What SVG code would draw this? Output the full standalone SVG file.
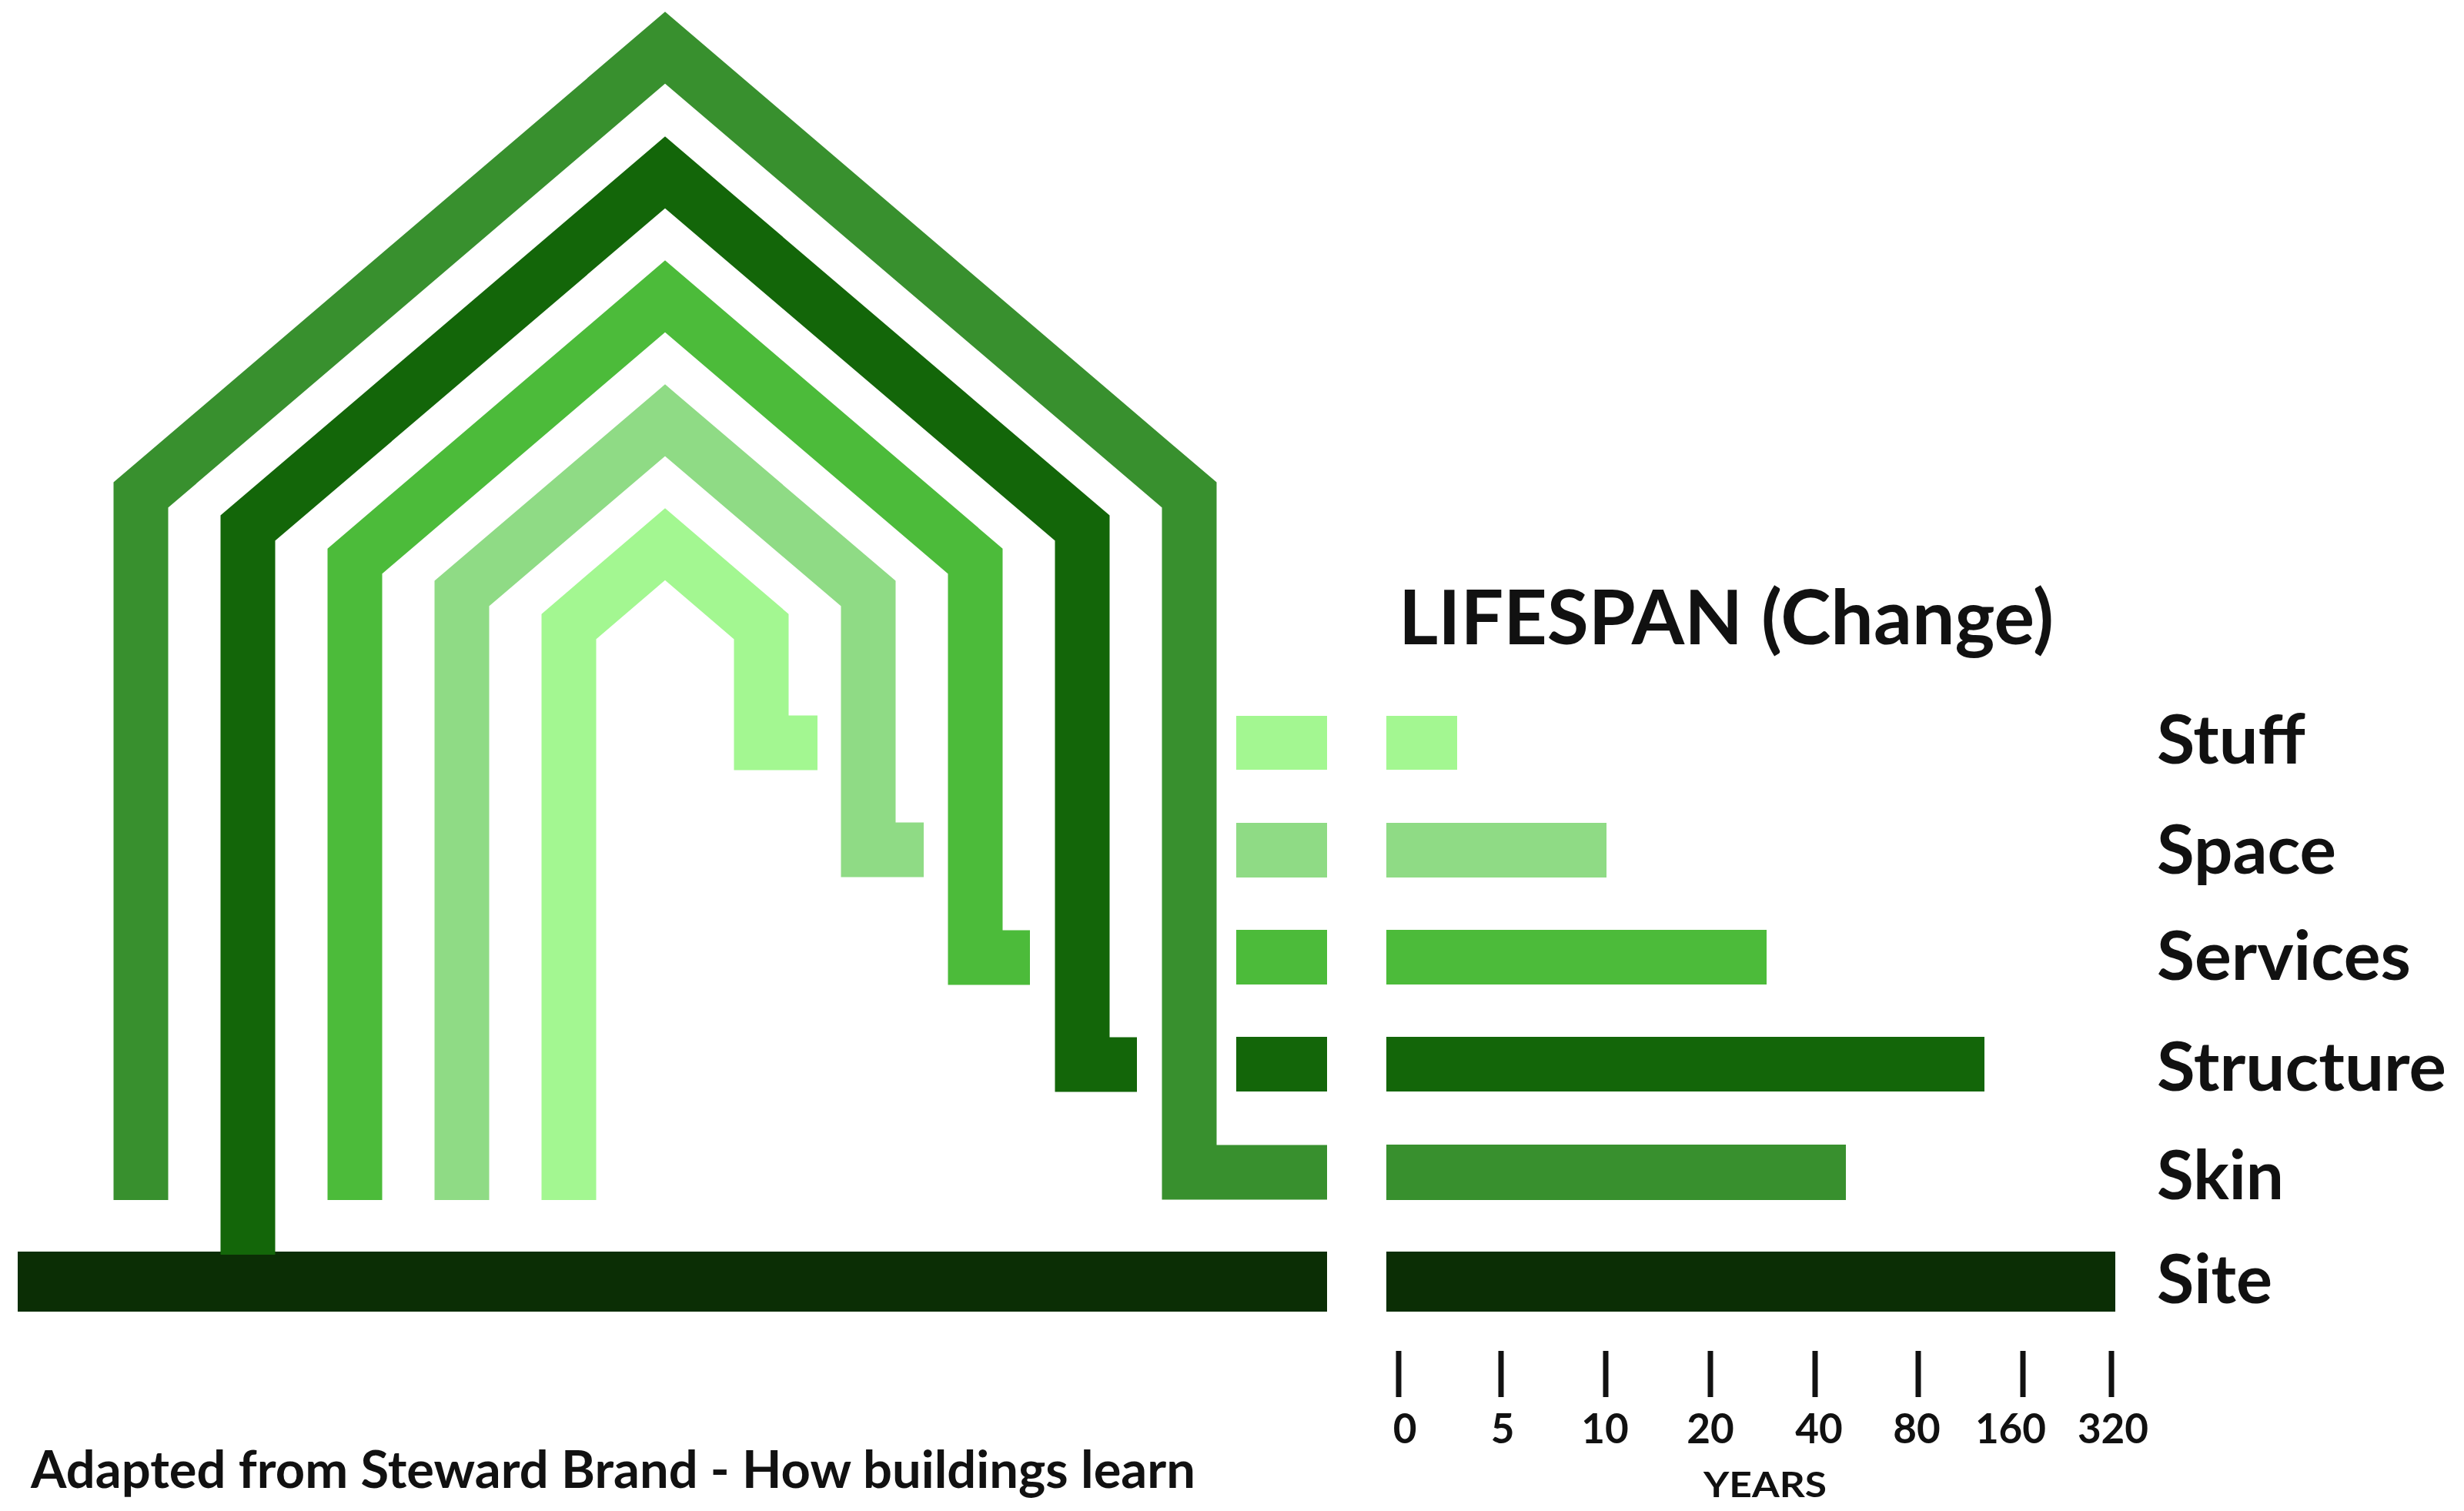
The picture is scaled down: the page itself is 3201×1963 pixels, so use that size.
<svg xmlns="http://www.w3.org/2000/svg" width="3201" height="1963" viewBox="0 0 3201 1963">
<style>
.house{fill:none;stroke-width:71;stroke-linejoin:miter;stroke-miterlimit:10;stroke-linecap:butt}
.lbl{font-family:Lato,"Open Sans","Liberation Sans",sans-serif;font-weight:700;fill:#111}
.layer{font-size:88px}
.num{font-size:53px;text-anchor:middle}
.tick{stroke:#111;stroke-width:7}
.skin{fill:#38902e}.skin-s{stroke:#38902e}
.structure{fill:#136609}.structure-s{stroke:#136609}
.services{fill:#4cbb3a}.services-s{stroke:#4cbb3a}
.space{fill:#8fdb85}.space-s{stroke:#8fdb85}
.stuff{fill:#a3f791}.stuff-s{stroke:#a3f791}
.site{fill:#0b2e05}
</style>
<rect width="3201" height="1963" fill="#ffffff"/>

<g id="site">
<rect class="site" x="23" y="1626" width="1701" height="78"/>
<rect class="site" x="1801" y="1626" width="947" height="78"/>
<text class="lbl layer" x="2802" y="1693" textLength="150" lengthAdjust="spacingAndGlyphs">Site</text>
</g>

<g id="skin">
<path class="house skin-s" d="M183,1559 V643 L864,62 L1545,643 V1523 H1724"/>
<rect class="skin" x="1801" y="1487" width="597" height="72"/>
<text class="lbl layer" x="2802" y="1558" textLength="165" lengthAdjust="spacingAndGlyphs">Skin</text>
</g>

<g id="structure">
<path class="house structure-s" d="M322,1630 V686 L864,224 L1406,686 V1383 H1477"/>
<rect class="structure" x="1606" y="1347" width="118" height="71"/>
<rect class="structure" x="1801" y="1347" width="777" height="71"/>
<text class="lbl layer" x="2802" y="1417" textLength="376" lengthAdjust="spacingAndGlyphs">Structure</text>
</g>

<g id="services">
<path class="house services-s" d="M461,1559 V729 L864,385 L1267,729 V1244 H1338"/>
<rect class="services" x="1606" y="1208" width="118" height="71"/>
<rect class="services" x="1801" y="1208" width="494" height="71"/>
<text class="lbl layer" x="2802" y="1273" textLength="330" lengthAdjust="spacingAndGlyphs">Services</text>
</g>

<g id="space">
<path class="house space-s" d="M600,1559 V771 L864,546 L1128,771 V1104 H1200"/>
<rect class="space" x="1606" y="1069" width="118" height="71"/>
<rect class="space" x="1801" y="1069" width="286" height="71"/>
<text class="lbl layer" x="2802" y="1135" textLength="233" lengthAdjust="spacingAndGlyphs">Space</text>
</g>

<g id="stuff">
<path class="house stuff-s" d="M739,1559 V814 L864,707 L989,814 V965 H1062"/>
<rect class="stuff" x="1606" y="930" width="118" height="70"/>
<rect class="stuff" x="1801" y="930" width="92" height="70"/>
<text class="lbl layer" x="2802" y="992" textLength="193" lengthAdjust="spacingAndGlyphs">Stuff</text>
</g>

<g id="title">
<text class="lbl" x="1817" y="837" font-size="98" textLength="851" lengthAdjust="spacingAndGlyphs">LIFESPAN (Change)</text>
</g>

<g id="axis">
<line class="tick" x1="1817" y1="1755" x2="1817" y2="1815"/>
<line class="tick" x1="1950" y1="1755" x2="1950" y2="1815"/>
<line class="tick" x1="2086" y1="1755" x2="2086" y2="1815"/>
<line class="tick" x1="2222" y1="1755" x2="2222" y2="1815"/>
<line class="tick" x1="2358" y1="1755" x2="2358" y2="1815"/>
<line class="tick" x1="2492" y1="1755" x2="2492" y2="1815"/>
<line class="tick" x1="2628" y1="1755" x2="2628" y2="1815"/>
<line class="tick" x1="2743" y1="1755" x2="2743" y2="1815"/>
<text class="lbl num" x="1825" y="1875">0</text>
<text class="lbl num" x="1952" y="1875">5</text>
<text class="lbl num" x="2085" y="1875">10</text>
<text class="lbl num" x="2222" y="1875">20</text>
<text class="lbl num" x="2363" y="1875">40</text>
<text class="lbl num" x="2490" y="1875">80</text>
<text class="lbl num" x="2612" y="1875">160</text>
<text class="lbl num" x="2745" y="1875">320</text>
<text class="lbl" x="2213" y="1945" font-size="46" textLength="160" lengthAdjust="spacingAndGlyphs">YEARS</text>
</g>

<g id="credit">
<text class="lbl" x="40" y="1933" font-size="67" textLength="1513" lengthAdjust="spacingAndGlyphs">Adapted from Steward Brand - How buildings learn</text>
</g>
</svg>
